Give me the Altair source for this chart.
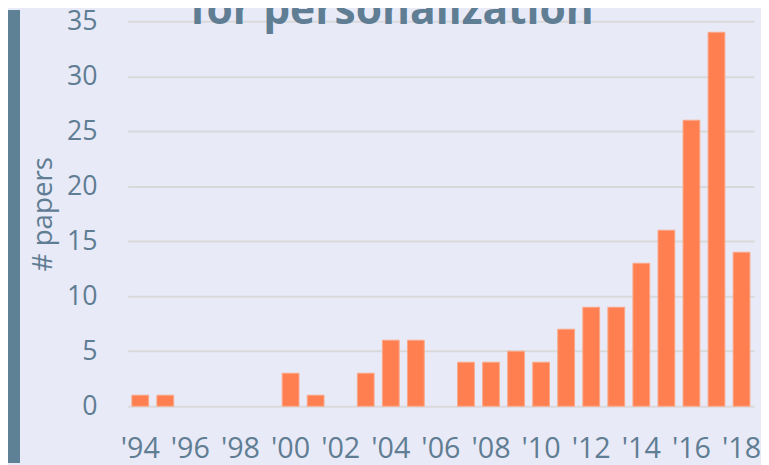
import altair as alt
import pandas as pd

years = ["'94", "'95", "'96", "'97", "'98", "'99", "'00", "'01", "'02", "'03",
         "'04", "'05", "'06", "'07", "'08", "'09", "'10", "'11", "'12", "'13",
         "'14", "'15", "'16", "'17", "'18"]
papers = [1, 1, 0, 0, 0, 0, 3, 1, 0, 3, 6, 6, 0, 4, 4, 5, 4, 7, 9, 9, 13, 16, 26, 34, 14]
x_tick_labels = ["'94", "'96", "'98", "'00", "'02", "'04", "'06", "'08", "'10",
                 "'12", "'14", "'16", "'18"]
y_ticks = [0, 5, 10, 15, 20, 25, 30, 35]
title_text = "for personalization"

df = pd.DataFrame({"year": years, "papers": papers})

TXT = "#5f7d93"
FONT = "Open Sans"
W, H = 633, 389

bars = alt.Chart(df).transform_filter("datum.papers > 0").mark_bar(
    color="#ff7f50", stroke="#f9a98a", strokeWidth=1
).encode(
    x=alt.X("year:N", sort=years,
            scale=alt.Scale(domain=years, paddingInner=0.33, paddingOuter=0.165),
            axis=alt.Axis(values=x_tick_labels, title=None, labelAngle=0,
                          labelFont=FONT, labelFontSize=29, labelColor=TXT,
                          labelBaseline="alphabetic",
                          labelPadding=52, ticks=False, domain=False, grid=False)),
    y=alt.Y("papers:Q", scale=alt.Scale(domain=[0, 35], nice=False),
            axis=alt.Axis(values=y_ticks, title="# papers",
                          labelFont=FONT, labelFontSize=27, labelColor=TXT,
                          labelPadding=31, ticks=False, domain=False,
                          grid=True, gridColor="#d9d9db", gridWidth=2,
                          titleFont=FONT, titleFontSize=28, titleFontWeight="normal",
                          titleColor=TXT, titlePadding=9)),
)

strip = alt.Chart(df).mark_rect(color="#5f8196").encode(
    x=alt.value(-121), x2=alt.value(-109), y=alt.value(-11), y2=alt.value(446)
)

title = alt.Chart(pd.DataFrame({"t": [title_text]})).mark_text(
    font=FONT, fontSize=43, fontWeight="bold", color=TXT,
    align="center", baseline="alphabetic"
).encode(x=alt.value(267), y=alt.value(3), text="t:N")

chart = alt.layer(strip, bars, title).properties(
    width=W, height=H,
    background="#e9eaf7",
    padding={"left": 121, "top": 11, "right": 7, "bottom": 57},
    autosize=alt.AutoSizeParams(type="none"),
).configure_view(stroke=None, fill="#e9eaf7")

chart.save("out.html", embed_options={"renderer": "svg", "actions": False})
